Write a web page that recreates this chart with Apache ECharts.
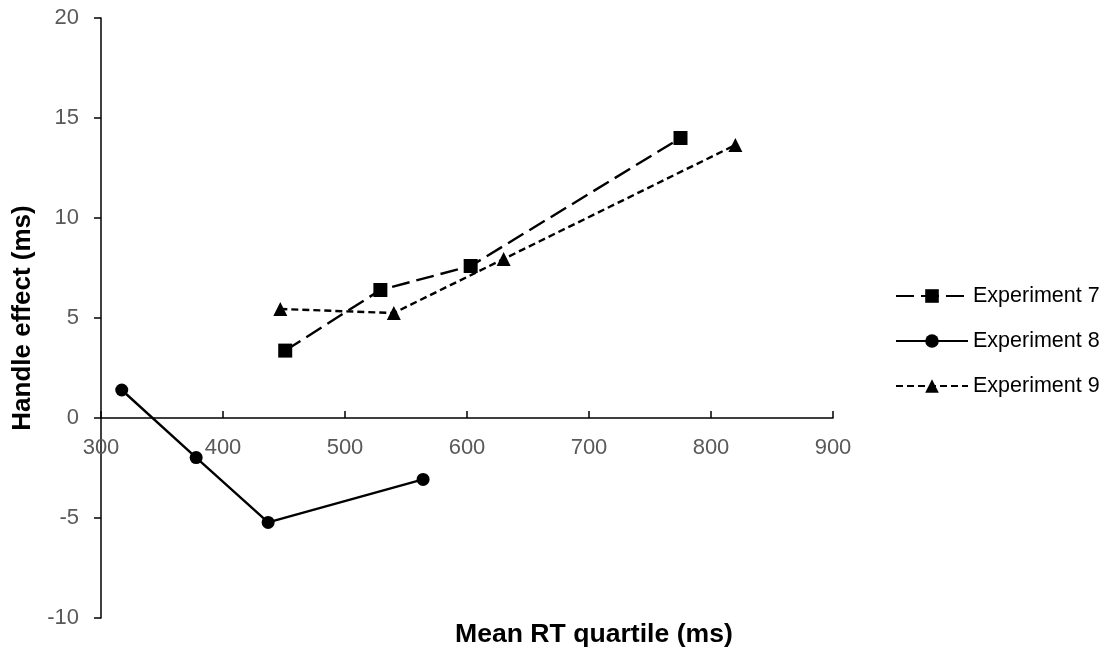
<!DOCTYPE html>
<html>
<head>
<meta charset="utf-8">
<script src="https://cdn.jsdelivr.net/npm/echarts@6/dist/echarts.min.js"></script>
<style>html,body{margin:0;padding:0;background:#fff}#c{width:1117px;height:653px}</style>
</head>
<body>
<div id="c"></div>
<script>
const seriesNames = ['Experiment 7', 'Experiment 8', 'Experiment 9'];
const exp7 = [[451, 3.37], [529, 6.4], [603, 7.6], [775, 14.0]];
const exp8 = [[317, 1.4], [378, -1.98], [437, -5.22], [564, -3.07]];
const exp9 = [[447, 5.45], [540, 5.25], [630, 7.95], [820, 13.65]];
const xTicks = [300, 400, 500, 600, 700, 800, 900];
const yTicks = [-10, -5, 0, 5, 10, 15, 20];

const chart = echarts.init(document.getElementById('c'), null, {renderer: 'canvas'});
const font = 'Arial, "Liberation Sans", sans-serif';
function mk(name, data, symbol, size, dash) {
  return {
    name: name, type: 'line', data: data, symbol: symbol, symbolSize: size,
    showSymbol: true,
    lineStyle: {color: '#000', width: 2.4, type: dash},
    itemStyle: {color: '#000'},
    emphasis: {disabled: true}, animation: false
  };
}
const gridTop = 18, gridBottom = 35, chartH = 653;
const plotH = chartH - gridTop - gridBottom;
const zeroOffset = plotH * (0 - yTicks[0]) / (yTicks[yTicks.length - 1] - yTicks[0]);
chart.setOption({
  animation: false,
  grid: {left: 101, right: 284, top: gridTop, bottom: gridBottom, containLabel: false, outerBoundsMode: 'none'},
  xAxis: {
    type: 'value', min: xTicks[0], max: xTicks[xTicks.length - 1], interval: 100,
    position: 'bottom', offset: -zeroOffset,
    axisLine: {onZero: false, lineStyle: {color: '#000', width: 1.5}},
    axisTick: {show: true, inside: true, length: 7, lineStyle: {color: '#000', width: 1.5}},
    axisLabel: {color: '#595959', fontSize: 22, fontFamily: font, margin: 19},
    splitLine: {show: false}
  },
  yAxis: {
    type: 'value', min: yTicks[0], max: yTicks[yTicks.length - 1], interval: 5,
    name: 'Handle effect (ms)', nameLocation: 'middle', nameRotate: 90, nameGap: 63,
    nameTextStyle: {color: '#000', fontSize: 26, fontWeight: 'bold', fontFamily: font},
    axisLine: {show: true, onZero: false, lineStyle: {color: '#000', width: 1.5}},
    axisTick: {show: true, inside: false, length: 7, lineStyle: {color: '#000', width: 1.5}},
    axisLabel: {color: '#595959', fontSize: 22, fontFamily: font, margin: 22},
    splitLine: {show: false}
  },
  legend: {
    orient: 'vertical', left: 890, top: 280, itemWidth: 72, itemHeight: 17, itemGap: 23,
    data: seriesNames,
    textStyle: {color: '#000', fontSize: 21.5, fontFamily: font, lineHeight: 22, padding: [0, 0, 0, 0]}
  },
  graphic: [{
    type: 'text', left: 455, top: 621,
    style: {text: 'Mean RT quartile (ms)', font: 'bold 26.6px ' + font, fill: '#000'}
  }],
  series: [
    mk(seriesNames[0], exp7, 'rect', 14, [18, 7]),
    mk(seriesNames[1], exp8, 'circle', 13, 'solid'),
    mk(seriesNames[2], exp9, 'triangle', 14, [7, 4])
  ]
});
</script>
</body>
</html>
